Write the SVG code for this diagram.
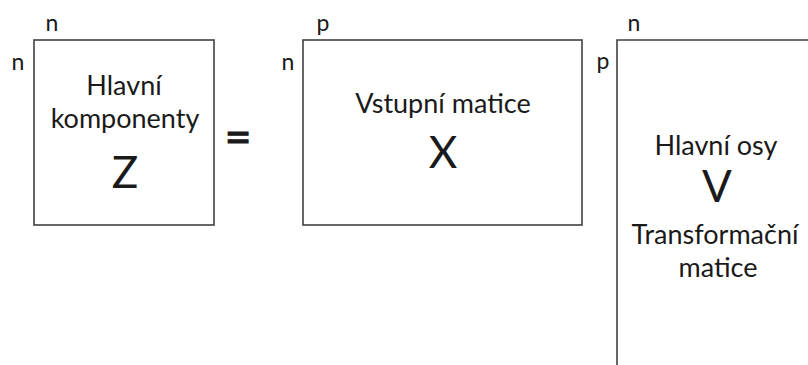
<svg xmlns="http://www.w3.org/2000/svg" width="808" height="365" viewBox="0 0 808 365">
<style>
.box{fill:none;stroke:#404040;stroke-width:1.6}
.t{font-family:Lato,"Open Sans","Liberation Sans",sans-serif;fill:#1a1a1a;text-anchor:middle}
.dim{font-size:23px}
.lbl{font-size:27px}
.big{font-size:44px}
.eq{font-size:46px;stroke:#1a1a1a;stroke-width:1.2}
</style>
<rect width="808" height="365" fill="#ffffff"/>
<g id="Z">
<rect class="box" x="34" y="40" width="180" height="185"/>
<text class="t dim" x="52" y="31">n</text>
<text class="t dim" x="18" y="70">n</text>
<text class="t lbl" x="124" y="95">Hlavní</text>
<text class="t lbl" x="125" y="128">komponenty</text>
<text class="t big" x="125" y="188">Z</text>
</g>
<g id="equals">
<text class="t eq" x="238" y="153">=</text>
</g>
<g id="X">
<rect class="box" x="303" y="40" width="279" height="185"/>
<text class="t dim" x="323" y="31">p</text>
<text class="t dim" x="288" y="70">n</text>
<text class="t lbl" x="443" y="113">Vstupní matice</text>
<text class="t big" x="443" y="168">X</text>
</g>
<g id="V">
<path class="box" d="M617,365 V40 H810"/>
<text class="t dim" x="634" y="31">n</text>
<text class="t dim" x="603" y="69">p</text>
<text class="t lbl" x="716" y="155">Hlavní osy</text>
<text class="t big" x="717" y="202">V</text>
<text class="t lbl" x="715" y="244">Transformační</text>
<text class="t lbl" x="718" y="277">matice</text>
</g>
</svg>
